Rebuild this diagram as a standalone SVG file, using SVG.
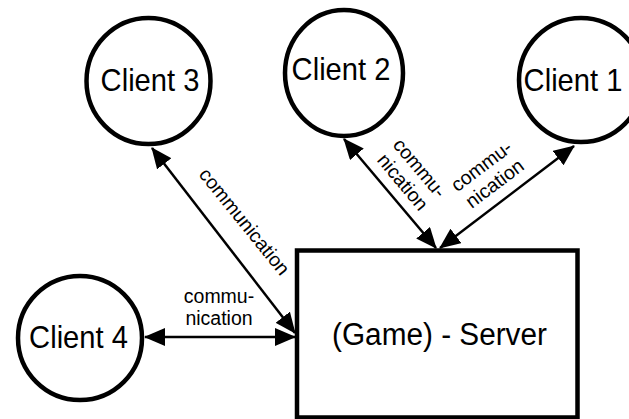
<svg xmlns="http://www.w3.org/2000/svg" width="629" height="419" viewBox="0 0 629 419">
<style>
.node{fill:#fff;stroke:#000;stroke-width:4.5}
.nt{font-family:"Liberation Sans",Arial,sans-serif;font-size:31px;fill:#000;text-anchor:middle}
.lt{font-family:"Liberation Sans",Arial,sans-serif;font-size:19.5px;fill:#000;text-anchor:middle}
.edge{stroke:#000;stroke-width:2.5;fill:none;marker-start:url(#ah);marker-end:url(#ah)}
</style>
<defs>
<marker id="ah" viewBox="0 0 21 18" refX="20" refY="9" markerWidth="21" markerHeight="18" markerUnits="userSpaceOnUse" orient="auto-start-reverse">
<path d="M0,0 L21,9 L0,18 z" fill="#000"/>
</marker>
</defs>
<rect width="629" height="419" fill="#fff"/>
<g id="connectors">
<line class="edge" x1="152" y1="148" x2="295" y2="333"/>
<line class="edge" x1="145" y1="337" x2="295" y2="337"/>
<line class="edge" x1="344" y1="139" x2="436" y2="248"/>
<line class="edge" x1="574" y1="146" x2="440" y2="248"/>
<text class="lt" transform="translate(244,222) rotate(51)" y="6">communication</text>
<g transform="translate(410,176) rotate(50)">
<text class="lt" y="-6">commu-</text>
<text class="lt" y="16">nication</text>
</g>
<g transform="translate(489,176) rotate(-37)">
<text class="lt" y="-6">commu-</text>
<text class="lt" y="16">nication</text>
</g>
<text class="lt" x="219" y="303">commu-</text>
<text class="lt" x="219" y="325">nication</text>
</g>
<g id="client3">
<ellipse class="node" cx="148.5" cy="81" rx="62" ry="63"/>
<text class="nt" transform="translate(150,91) scale(0.94,1)">Client 3</text>
</g>
<g id="client2">
<ellipse class="node" cx="344" cy="73" rx="59" ry="63"/>
<text class="nt" transform="translate(341,80) scale(0.94,1)">Client 2</text>
</g>
<g id="client1">
<ellipse class="node" cx="581" cy="80" rx="62" ry="62"/>
<text class="nt" transform="translate(573,91) scale(0.94,1)">Client 1</text>
</g>
<g id="client4">
<ellipse class="node" cx="80" cy="338" rx="62" ry="62"/>
<text class="nt" transform="translate(78.5,348) scale(0.94,1)">Client 4</text>
</g>
<g id="server">
<rect class="node" x="297" y="250.5" width="280.5" height="167" stroke-width="5"/>
<text class="nt" transform="translate(439.5,345) scale(0.96,1)">(Game) - Server</text>
</g>
</svg>
